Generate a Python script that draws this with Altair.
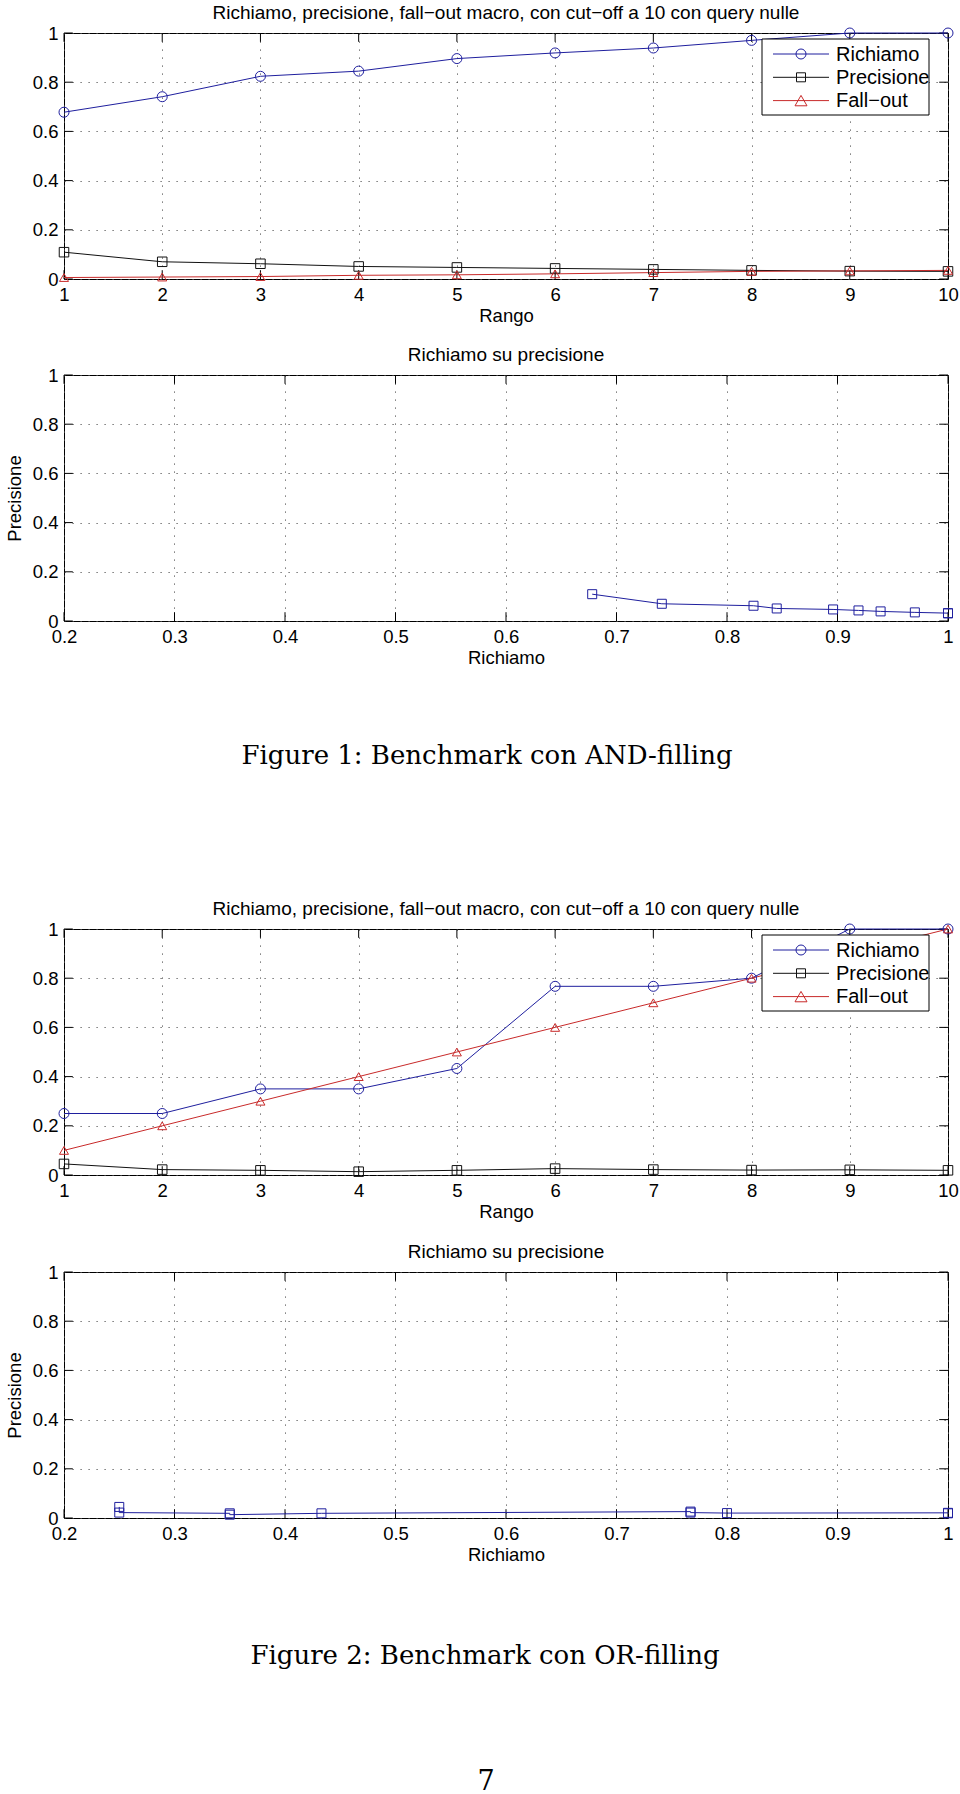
import altair as alt
import pandas as pd

# ---------------- data ----------------
rango = [1, 2, 3, 4, 5, 6, 7, 8, 9, 10]
series = ["Richiamo", "Precisione", "Fall\u2212out"]

# Figure 1: AND-filling
and_richiamo = [0.678, 0.741, 0.824, 0.845, 0.896, 0.919, 0.939, 0.970, 1.0, 1.0]
and_precisione = [0.109, 0.070, 0.062, 0.051, 0.047, 0.043, 0.039, 0.035, 0.032, 0.031]
and_fallout = [0.006, 0.008, 0.010, 0.015, 0.017, 0.021, 0.026, 0.031, 0.033, 0.035]

# Figure 2: OR-filling
or_richiamo = [0.25, 0.25, 0.35, 0.35, 0.433, 0.767, 0.767, 0.80, 1.0, 1.0]
or_precisione = [0.045, 0.022, 0.019, 0.0135, 0.019, 0.026, 0.022, 0.020, 0.021, 0.019]
or_fallout = [0.1, 0.2, 0.3, 0.4, 0.5, 0.6, 0.7, 0.8, 0.9, 1.0]

x_ticks_rango = [1, 2, 3, 4, 5, 6, 7, 8, 9, 10]
x_ticks_richiamo = [0.2, 0.3, 0.4, 0.5, 0.6, 0.7, 0.8, 0.9, 1.0]
y_ticks = [0, 0.2, 0.4, 0.6, 0.8, 1.0]

title_top = "Richiamo, precisione, fall\u2212out macro, con cut\u2212off a 10 con query nulle"
title_bottom = "Richiamo su precisione"
xlabel_top = "Rango"
xlabel_bottom = "Richiamo"
ylabel_bottom = "Precisione"
captions = ["Figure 1: Benchmark con AND-filling", "Figure 2: Benchmark con OR-filling"]
page_number = ["7"]

# ---------------- style ----------------
W, H = 884, 246
BLUE, BLACK, RED = "#1f1f9e", "#111111", "#c82a2a"
colors = [BLUE, BLACK, RED]
shapes = ["circle", "square", "triangle-up"]
sizes = [100, 81, 144]
SANS = "Liberation Sans"
SERIF = "DejaVu Serif"
TICK = 8.8
FS = 18.5


def one_row(**kw):
    return alt.Data(values=[kw if kw else {}])


def long_df(xvals, yvals_list, names):
    rows = []
    for name, ys in zip(names, yvals_list):
        for k, (xv, yv) in enumerate(zip(xvals, ys)):
            rows.append({"x": xv, "y": yv, "serie": name, "k": k})
    return pd.DataFrame(rows)


def frame_layers(xdom, xticks, title_x, title_y):
    xs = alt.Scale(domain=xdom, nice=False, zero=False)
    ys = alt.Scale(domain=[0, 1], nice=False, zero=False)
    xax = alt.Axis(values=xticks, format="~r", grid=True, ticks=False, tickSize=0,
                   domain=False, labelPadding=6, labelFlush=False, labelOverlap=False,
                   title=title_x, titlePadding=3)
    yax = alt.Axis(values=y_ticks, format="~r", grid=True, ticks=False, tickSize=0,
                   domain=False, labelPadding=6, labelFlush=False, labelOverlap=False,
                   title=title_y, titlePadding=8)
    xt = alt.Chart(pd.DataFrame({"t": xticks}))
    yt = alt.Chart(pd.DataFrame({"t": y_ticks}))
    X = lambda f: alt.X(f, scale=xs, axis=xax)
    Y = lambda f: alt.Y(f, scale=ys, axis=yax)
    layers = [
        xt.mark_rule(color="black", strokeWidth=1).encode(x=X("t:Q"), y=alt.value(H), y2=alt.value(H - TICK)),
        xt.mark_rule(color="black", strokeWidth=1).encode(x=X("t:Q"), y=alt.value(0), y2=alt.value(TICK)),
        yt.mark_rule(color="black", strokeWidth=1).encode(y=Y("t:Q"), x=alt.value(0), x2=alt.value(TICK)),
        yt.mark_rule(color="black", strokeWidth=1).encode(y=Y("t:Q"), x=alt.value(W), x2=alt.value(W - TICK)),
    ]
    return layers, X, Y


def title_layer(text):
    return alt.Chart(one_row(s=text)).mark_text(
        font=SANS, fontSize=19, align="center", baseline="alphabetic", color="black").encode(
        x=alt.value(W / 2), y=alt.value(-14.5), text="s:N")


def legend_layers():
    out = [alt.Chart(one_row()).mark_rect(fill="white", stroke="black", strokeWidth=1).encode(
        x=alt.value(698), x2=alt.value(865), y=alt.value(6), y2=alt.value(82))]
    for i, name in enumerate(series):
        yy = 21 + 23.3 * i
        out.append(alt.Chart(one_row()).mark_rule(color=colors[i], strokeWidth=1).encode(
            x=alt.value(709), x2=alt.value(765), y=alt.value(yy)))
        out.append(alt.Chart(one_row()).mark_point(shape=shapes[i], size=sizes[i], filled=False,
                                                   color=colors[i], strokeWidth=1, opacity=1).encode(
            x=alt.value(737), y=alt.value(yy)))
        out.append(alt.Chart(one_row(s=name)).mark_text(align="left", baseline="middle", font=SANS,
                                                        fontSize=20, color="black").encode(
            x=alt.value(772), y=alt.value(yy + 0.5), text="s:N"))
    return out


def top_panel(r, p, f, anchor=False):
    layers, X, Y = frame_layers([1, 10], x_ticks_rango, xlabel_top, None)
    df = long_df(rango, [r, p, f], series)
    base = alt.Chart(df)
    cscale = alt.Scale(domain=series, range=colors)
    line = base.mark_line(strokeWidth=1).encode(
        x=X("x:Q"), y=Y("y:Q"),
        color=alt.Color("serie:N", scale=cscale, legend=None),
        order=alt.Order("k:Q"))
    pts = base.mark_point(filled=False, strokeWidth=1, opacity=1).encode(
        x=X("x:Q"), y=Y("y:Q"),
        color=alt.Color("serie:N", scale=cscale, legend=None),
        shape=alt.Shape("serie:N", scale=alt.Scale(domain=series, range=shapes), legend=None),
        size=alt.Size("serie:N", scale=alt.Scale(domain=series, range=sizes), legend=None))
    layers += [line, pts] + legend_layers() + [title_layer(title_top)]
    if anchor:
        layers.append(alt.Chart(one_row()).mark_rule(opacity=0, strokeWidth=0.1).encode(
            x=alt.value(-63), x2=alt.value(-63), y=alt.value(-32), y2=alt.value(-31)))
    return alt.layer(*layers).properties(
        width=W, height=H, view=alt.ViewBackground(stroke="black", strokeWidth=1))


def bottom_panel(r, p):
    layers, X, Y = frame_layers([0.2, 1.0], x_ticks_richiamo, xlabel_bottom, ylabel_bottom)
    df = pd.DataFrame({"x": r, "y": p, "k": list(range(len(r)))})
    base = alt.Chart(df)
    line = base.mark_line(strokeWidth=1, color=BLUE).encode(x=X("x:Q"), y=Y("y:Q"), order=alt.Order("k:Q"))
    pts = base.mark_point(filled=False, strokeWidth=1, opacity=1, color=BLUE, shape="square",
                          size=81).encode(x=X("x:Q"), y=Y("y:Q"))
    layers += [line, pts, title_layer(title_bottom)]
    return alt.layer(*layers).properties(
        width=W, height=H, view=alt.ViewBackground(stroke="black", strokeWidth=1))


def spacer(h):
    return alt.Chart(one_row()).mark_point(opacity=0).encode(
        x=alt.value(10), y=alt.value(10)).properties(width=W, height=h)


def text_chart(text, x, y, size, h):
    return alt.Chart(alt.Data(values=[{"t": text}])).mark_text(
        font=SERIF, fontSize=size, align="center", baseline="alphabetic", color="black").encode(
        x=alt.value(x), y=alt.value(y), text="t:N").properties(width=W, height=h)


p1 = top_panel(and_richiamo, and_precisione, and_fallout, anchor=True)
p2 = bottom_panel(and_richiamo, and_precisione)
p3 = top_panel(or_richiamo, or_precisione, or_fallout)
p4 = bottom_panel(or_richiamo, or_precisione)

s1 = spacer(96)
s2 = text_chart(captions[0], 423, 143, 26, 308)
s3 = spacer(97)
s4 = text_chart(captions[1], 421, 146, 26, 200)
s5 = text_chart(page_number[0], 422, 72, 27, 77)

chart = alt.vconcat(p1, s1, p2, s2, p3, s3, p4, s4, s5, spacing=0, bounds="flush").properties(
    padding=0, background="white"
).configure_view(strokeWidth=0).configure_axis(
    labelFont=SANS, titleFont=SANS, labelFontSize=FS, titleFontSize=FS,
    titleFontWeight="normal", labelColor="black", titleColor="black",
    gridColor="#555555", gridDash=[1.2, 6.8], gridWidth=1, gridOpacity=1
)

chart.save("out.html", embed_options={"renderer": "svg", "actions": False})
